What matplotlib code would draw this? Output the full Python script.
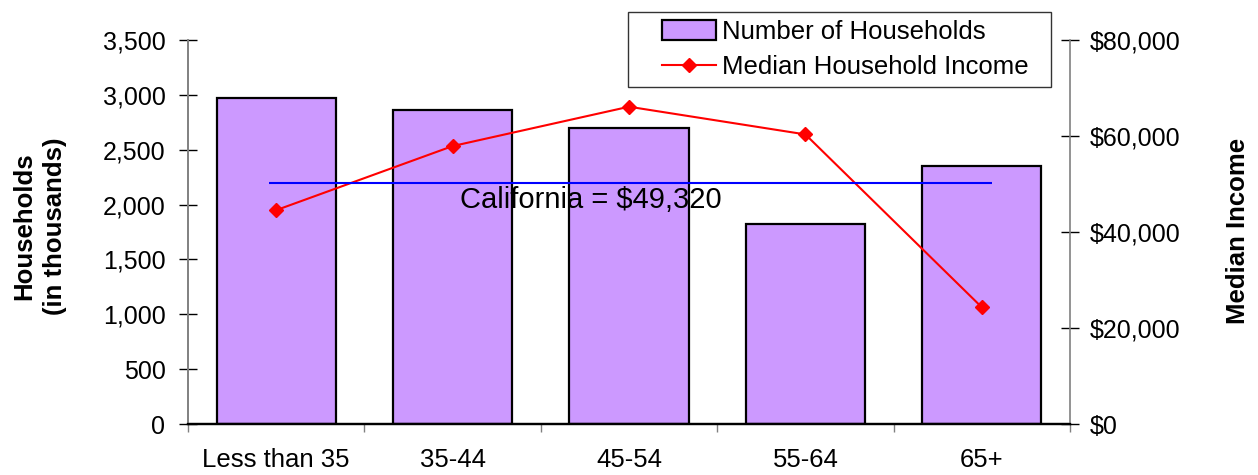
import matplotlib
matplotlib.use("Agg")
import matplotlib.pyplot as plt
from matplotlib.ticker import FuncFormatter, FixedLocator
from matplotlib.legend_handler import HandlerPatch, HandlerLine2D

plt.rcParams['font.family'] = ['Liberation Sans', 'DejaVu Sans']

# data
age_groups = ["Less than 35", "35-44", "45-54", "55-64", "65+"]
households = [2968, 2861, 2694, 1821, 2350]          # thousands
median_income = [44550, 57900, 66100, 60330, 24320]   # dollars
ca_line = 50300                                       # level of the blue reference line
ca_label = "California = $49,320"

W, H = 1258, 475
fig = plt.figure(figsize=(W / 100, H / 100), dpi=100)
ax = fig.add_axes([188 / W, 1 - 424 / H, (1070 - 188) / W, (424 - 40) / H])
ax2 = ax.twinx()

x = list(range(len(age_groups)))
bars = ax.bar(x, households, width=0.675, color="#CC99FF",
              edgecolor="black", linewidth=1.6, label="Number of Households")
ax.set_xlim(-0.5, 4.5)
ax.set_ylim(0, 3500)
ax.set_yticks(range(0, 3501, 500))
ax.yaxis.set_major_formatter(FuncFormatter(lambda v, p: "{:,.0f}".format(v)))

line, = ax2.plot(x, median_income, color="red", lw=1.5, marker="D",
                 markersize=7.5, markeredgewidth=1, label="Median Household Income")
ax2.hlines(ca_line, -0.04, 4.06, color="#0000FF", lw=1.5)
ax2.text(1.04, 46600, ca_label, fontsize=21, ha="left", va="center")
ax2.set_ylim(0, 80000)
ax2.set_yticks(range(0, 80001, 20000))
ax2.yaxis.set_major_formatter(FuncFormatter(lambda v, p: "${:,.0f}".format(v)))

# x axis: labels centered, small ticks between categories
ax.set_xticks(x)
ax.set_xticklabels(age_groups)
ax.xaxis.set_minor_locator(FixedLocator([i - 0.5 for i in range(len(age_groups) + 1)]))
ax.tick_params(axis="x", which="major", length=0, pad=17, labelsize=18.5)
ax.tick_params(axis="x", which="minor", length=6, width=1, color="#808080", direction="out")
ax.tick_params(axis="y", which="major", direction="inout", length=12.5, width=1,
               color="black", pad=10, labelsize=18)
ax2.tick_params(axis="y", which="major", direction="inout", length=12.5, width=1,
                color="black", pad=8, labelsize=18)

for a in (ax, ax2):
    a.spines["top"].set_visible(False)
    a.spines["left"].set_color("#808080")
    a.spines["right"].set_color("#808080")
    a.spines["bottom"].set_color("black")
    a.spines["bottom"].set_linewidth(1.6)
    a.spines["left"].set_linewidth(1.2)
    a.spines["right"].set_linewidth(1.2)
ax.spines["right"].set_visible(False)

fig.text(40 / W, 1 - 226 / H, "Households\n(in thousands)", rotation=90,
         ha="center", va="center", fontsize=18.5, fontweight="bold",
         multialignment="center", linespacing=1.35)
fig.text(1238 / W, 1 - 231 / H, "Median Income", rotation=90,
         ha="center", va="center", fontsize=18.5, fontweight="bold")

leg = fig.legend([bars.patches[0], line], ["Number of Households", "Median Household Income"],
                 loc="upper left", bbox_to_anchor=(628 / W, 1 - 86 / H, 423 / W, 74 / H),
                 mode="expand", fontsize=18.5, frameon=True, fancybox=False,
                 borderpad=0.32, labelspacing=0.42, handletextpad=0.25, handlelength=3.1,
                 handleheight=0.8, borderaxespad=0,
                 handler_map={bars.patches[0]: HandlerPatch(xpad=1.0),
                              line: HandlerLine2D(xpad=1.0)})
leg.get_frame().set_edgecolor("black")
leg.get_frame().set_linewidth(1)

fig.savefig("out.png", dpi=100)
